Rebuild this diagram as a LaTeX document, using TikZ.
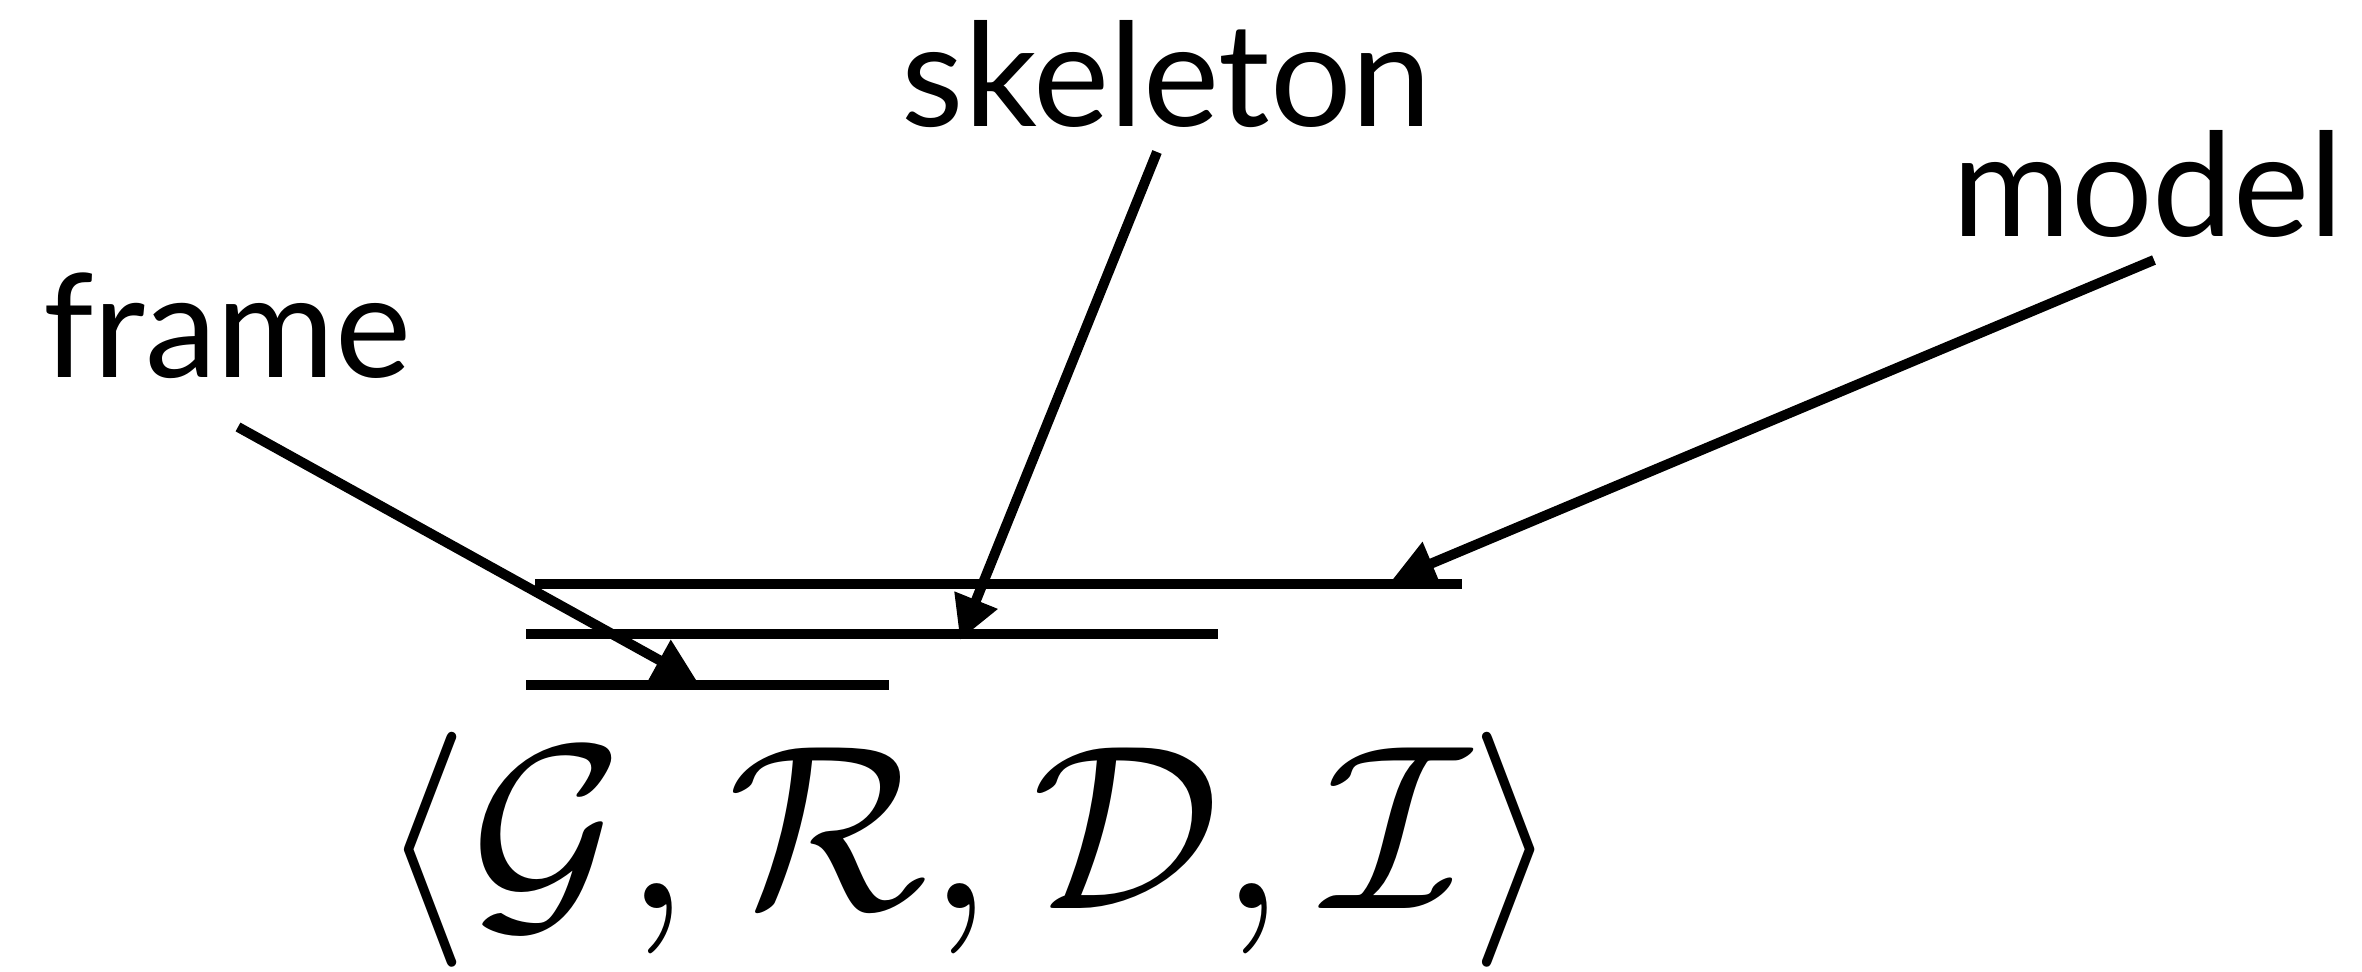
\documentclass[tikz,border=0pt]{standalone}
\usepackage{fontspec}
\setmainfont{Lato}
\usetikzlibrary{arrows.meta}
\begin{document}
\begin{tikzpicture}[x=0.5pt,y=-0.5pt,
  lbl/.style={inner sep=0pt,anchor=base,font=\fontsize{72}{80}\selectfont},
  bar/.style={line width=5pt,line cap=butt},
  arr/.style={line width=5pt,-{Triangle[length=21.5pt,width=22pt]}}]
\useasboundingbox (0,0) rectangle (2362,972);
% labels
\node[lbl] (frame) at (227,378) {frame};
\node[lbl] (skeleton) at (1167,127) {skeleton};
\node[lbl] (model) at (2148,237) {model};
% formula
\node[inner sep=0pt,anchor=base,scale=11.75] (tuple) at (970,908)
  {$\langle\mathcal{G},\mathcal{R},\mathcal{D},\mathcal{I}\rangle$};
% bars
\coordinate (b1l) at (535,584); \coordinate (b1r) at (1462,584);
\coordinate (b2l) at (526,634); \coordinate (b2r) at (1218,634);
\coordinate (b3l) at (526,685); \coordinate (b3r) at (889,685);
\draw[bar] (b1l) -- (b1r);
\draw[bar] (b2l) -- (b2r);
\draw[bar] (b3l) -- (b3r);
% arrows
\coordinate (fs) at (238,427); \coordinate (ft) at (697,681);
\coordinate (ss) at (1157,152); \coordinate (st) at (960,640);
\coordinate (ms) at (2154,260); \coordinate (mt) at (1392,580);
\draw[arr] (fs) -- (ft);
\draw[arr] (ss) -- (st);
\draw[arr] (ms) -- (mt);
\end{tikzpicture}
\end{document}
